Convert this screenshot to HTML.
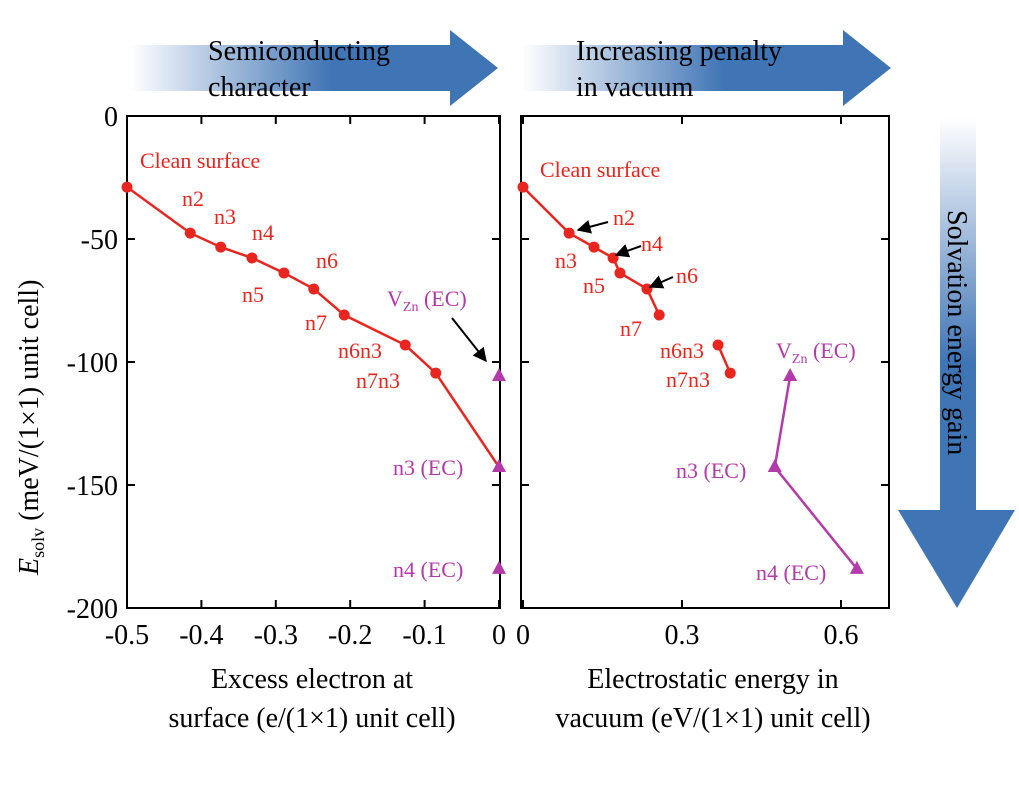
<!DOCTYPE html>
<html><head><meta charset="utf-8"><style>
body{margin:0;background:#fff;}
svg text{font-family:"Liberation Serif",serif;}
</style></head><body>
<svg width="1019" height="805" viewBox="0 0 1019 805" xmlns="http://www.w3.org/2000/svg">
<defs>
<linearGradient id="gh" x1="0" x2="1" y1="0" y2="0"><stop offset="0" stop-color="#fff"/><stop offset="0.55" stop-color="#3f74b5"/><stop offset="1" stop-color="#3f74b5"/></linearGradient>
<linearGradient id="gv" x1="0" x2="0" y1="0" y2="1"><stop offset="0" stop-color="#fff"/><stop offset="0.5" stop-color="#3f74b5"/><stop offset="1" stop-color="#3f74b5"/></linearGradient>
<marker id="ah" viewBox="0 0 10 10" refX="9" refY="5" markerWidth="7" markerHeight="7" orient="auto"><path d="M0,0L10,5L0,10z" fill="#000"/></marker>
</defs>
<g id="arrows">
<path d="M130,45H450V30L498,68L450,106V91H130Z" fill="url(#gh)"/>
<path d="M522,45H843V30L891,68L843,106V91H522Z" fill="url(#gh)"/>
<path d="M940,118H976V510H1015L957,608L898,510H940Z" fill="url(#gv)"/>
<text x="208" y="60" font-size="28">Semiconducting</text>
<text x="208" y="96" font-size="28">character</text>
<text x="576" y="60" font-size="28">Increasing penalty</text>
<text x="576" y="96" font-size="28">in vacuum</text>
<text transform="translate(948,210) rotate(90)" font-size="28">Solvation energy gain</text>
</g>
<g id="plot"></g>
</svg>
<script>
const leftX=[-0.5,-0.415,-0.374,-0.332,-0.289,-0.249,-0.208,-0.126,-0.085,0];
const leftY=[-28.9,-47.6,-53.3,-57.7,-63.8,-70.3,-80.9,-93.1,-104.5,-142.7];
const ecLeftX=[0,0,0];
const ecY=[-105.7,-142.7,-184.1];
const rightX1=[0,0.087,0.134,0.170,0.183,0.234,0.257];
const rightY1=[-28.9,-47.6,-53.3,-57.7,-63.8,-70.3,-80.9];
const rightX2=[0.368,0.391];
const rightY2=[-93.1,-104.5];
const ecRightX=[0.504,0.475,0.630];
const leftTicks=[-0.5,-0.4,-0.3,-0.2,-0.1,0];
const leftTickLabels=["-0.5","-0.4","-0.3","-0.2","-0.1","0"];
const rightTicks=[0,0.3,0.6];
const rightTickLabels=["0","0.3","0.6"];
const yTicks=[0,-50,-100,-150,-200];
const yTickLabels=["0","-50","-100","-150","-200"];

const NS="http://www.w3.org/2000/svg";
const g=document.getElementById('plot');
const RED="#e8261f",MAG="#b43aa9";
function mk(t,a,txt){const e=document.createElementNS(NS,t);for(const k in a)e.setAttribute(k,a[k]);if(txt!==undefined)e.textContent=txt;g.appendChild(e);return e;}
const yS=v=>116+(-v)*2.46;
const xL=v=>127+(v+0.5)*744;
const xR=v=>523+v*530;
let e=mk('rect',{x:127,y:116,width:373,height:492,fill:'none',stroke:'#000','stroke-width':2});

e=mk('rect',{x:521,y:116,width:368,height:492,fill:'none',stroke:'#000','stroke-width':2});

yTicks.forEach((v,i)=>{
 [[127,1],[500,-1],[521,1],[889,-1]].forEach(([x,d])=>{mk('line',{x1:x,x2:x+8*d,y1:yS(v),y2:yS(v),stroke:'#000','stroke-width':2});});
 e=mk('text',{x:118,y:yS(v)+10,'font-size':28,'text-anchor':'end'},yTickLabels[i]);
 
});
leftTicks.forEach((v,i)=>{
 mk('line',{x1:xL(v),x2:xL(v),y1:608,y2:600,stroke:'#000','stroke-width':2});
 mk('line',{x1:xL(v),x2:xL(v),y1:116,y2:124,stroke:'#000','stroke-width':2});
 e=mk('text',{x:xL(v),y:644,'font-size':28,'text-anchor':'middle'},leftTickLabels[i]);
 
});
rightTicks.forEach((v,i)=>{
 mk('line',{x1:xR(v),x2:xR(v),y1:608,y2:600,stroke:'#000','stroke-width':2});
 mk('line',{x1:xR(v),x2:xR(v),y1:116,y2:124,stroke:'#000','stroke-width':2});
 e=mk('text',{x:xR(v),y:644,'font-size':28,'text-anchor':'middle'},rightTickLabels[i]);
 
});
e=mk('text',{x:312,y:688,'font-size':28,'text-anchor':'middle'},'Excess electron at');

mk('text',{x:312,y:727,'font-size':28,'text-anchor':'middle'},'surface (e/(1×1) unit cell)');
e=mk('text',{x:713,y:688,'font-size':28,'text-anchor':'middle'},'Electrostatic energy in');

mk('text',{x:713,y:727,'font-size':28,'text-anchor':'middle'},'vacuum (eV/(1×1) unit cell)');
e=mk('text',{transform:'translate(38,575) rotate(-90)','font-size':28});

e.innerHTML='<tspan font-style="italic">E</tspan><tspan font-size="18" dy="6">solv</tspan><tspan dy="-6"> (meV/(1×1) unit cell)</tspan>';
function line(xs,ys,fx,col,name){const p=xs.map((x,i)=>fx(x)+','+yS(ys[i])).join(' ');const l=mk('polyline',{points:p,fill:'none',stroke:col,'stroke-width':2.5});}
function dots(xs,ys,fx,name){xs.forEach((x,i)=>{const c=mk('circle',{cx:fx(x),cy:yS(ys[i]),r:5.5,fill:RED});});}
function tris(xs,ys,fx,name){xs.forEach((x,i)=>{const cx=fx(x),cy=yS(ys[i]);const t=mk('polygon',{points:`${cx},${cy-8} ${cx-7},${cy+5} ${cx+7},${cy+5}`,fill:MAG});});}
line(leftX,leftY,xL,RED,'left-series-line');dots(leftX.slice(0,9),leftY.slice(0,9),xL,'left-point');
tris(ecLeftX,ecY,xL,'left-ec-point');
line(rightX1,rightY1,xR,RED,'right-series-line');dots(rightX1,rightY1,xR,'right-point');
line(rightX2,rightY2,xR,RED,'right-series-line-2');dots(rightX2,rightY2,xR,'right-point');
line(ecRightX,ecY,xR,MAG,'right-ec-line');tris(ecRightX,ecY,xR,'right-ec-point');
function lab(x,y,t,col,name){const l=mk('text',{x:x,y:y,'font-size':22,fill:col});l.textContent=t;return l;}
lab(140,168,'Clean surface',RED,'clean-surface-label');
[[182,206,'n2'],[214,224,'n3'],[252,240,'n4'],[242,302,'n5'],[316,268,'n6'],[305,330,'n7'],[338,358,'n6n3'],[356,388,'n7n3']].forEach(a=>lab(a[0],a[1],a[2],RED,'point-label'));
e=lab(387,306,'','#b43aa9','vzn-label');e.innerHTML='V<tspan font-size="14" dy="5">Zn</tspan><tspan dy="-5"> (EC)</tspan>';
lab(393,475,'n3 (EC)',MAG,'n3-ec-label');lab(393,577,'n4 (EC)',MAG,'n4-ec-label');
e=mk('line',{x1:452,y1:318,x2:486,y2:361,stroke:'#000','stroke-width':2,'marker-end':'url(#ah)'});
lab(540,177,'Clean surface',RED,'clean-surface-label-right');
[[613,225,'n2'],[555,268,'n3'],[641,251,'n4'],[583,293,'n5'],[676,283,'n6'],[620,336,'n7'],[660,358,'n6n3'],[666,387,'n7n3']].forEach(a=>lab(a[0],a[1],a[2],RED,'point-label-right'));
e=lab(776,358,'',MAG,'vzn-label-right');e.innerHTML='V<tspan font-size="14" dy="5">Zn</tspan><tspan dy="-5"> (EC)</tspan>';
lab(676,478,'n3 (EC)',MAG,'n3-ec-label-right');lab(756,580,'n4 (EC)',MAG,'n4-ec-label-right');
[[608,222,578,230],[641,246,616,255],[673,277,650,287]].forEach(a=>{const l=mk('line',{x1:a[0],y1:a[1],x2:a[2],y2:a[3],stroke:'#000','stroke-width':2,'marker-end':'url(#ah)'});});
</script>
</body></html>
